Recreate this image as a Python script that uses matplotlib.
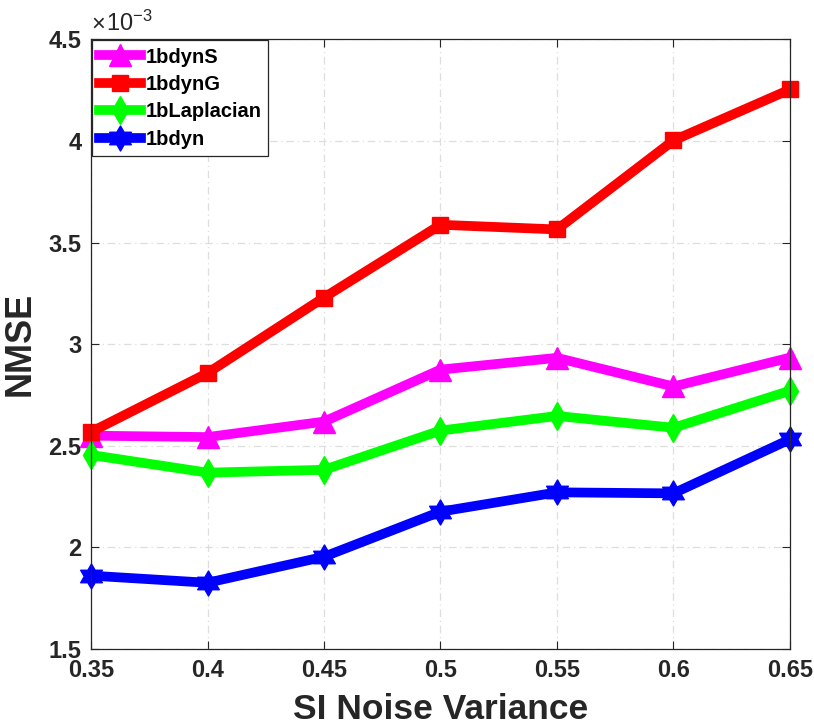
import numpy as np
import matplotlib

matplotlib.use("Agg")
import matplotlib.pyplot as plt
from matplotlib.path import Path
from matplotlib.ticker import FuncFormatter

# SI noise variance on the x axis
noise_var = [0.35, 0.40, 0.45, 0.50, 0.55, 0.60, 0.65]

# NMSE per method
nmse_1bdynS = [2.550e-3, 2.543e-3, 2.619e-3, 2.875e-3, 2.933e-3, 2.792e-3, 2.934e-3]
nmse_1bdynG = [2.568e-3, 2.858e-3, 3.230e-3, 3.588e-3, 3.565e-3, 4.003e-3, 4.254e-3]
nmse_1bLaplacian = [2.455e-3, 2.368e-3, 2.382e-3, 2.575e-3, 2.647e-3, 2.589e-3, 2.771e-3]
nmse_1bdyn = [1.861e-3, 1.826e-3, 1.954e-3, 2.176e-3, 2.271e-3, 2.266e-3, 2.532e-3]

labels = ["1bdynS", "1bdynG", "1bLaplacian", "1bdyn"]

x_ticks = [0.35, 0.4, 0.45, 0.5, 0.55, 0.6, 0.65]
y_ticks = [1.5e-3, 2e-3, 2.5e-3, 3e-3, 3.5e-3, 4e-3, 4.5e-3]

plt.rcParams["font.family"] = ["Liberation Sans", "DejaVu Sans"]
plt.rcParams["font.weight"] = "bold"
plt.rcParams["mathtext.fontset"] = "custom"
plt.rcParams["mathtext.rm"] = "Liberation Sans"
plt.rcParams["mathtext.it"] = "Liberation Sans"


def _hexagram():
    # six pointed star like MATLAB's 'h' marker
    ang = np.deg2rad(90 + 30 * np.arange(12))
    rad = np.where(np.arange(12) % 2 == 0, 1.0, 1.0 / np.sqrt(3))
    verts = np.column_stack([rad * np.cos(ang), rad * np.sin(ang)])
    verts = np.vstack([verts, verts[:1]])
    codes = [Path.MOVETO] + [Path.LINETO] * 11 + [Path.CLOSEPOLY]
    return Path(verts, codes)


fig = plt.figure(figsize=(8.14, 7.27), dpi=100)
ax = fig.add_axes([0.1118, 0.1073, 0.8587, 0.8384])

series = [
    (nmse_1bdynS, "#ff00ff", "^", 16),
    (nmse_1bdynG, "#ff0000", "s", 11),
    (nmse_1bLaplacian, "#00ff00", "d", 14),
    (nmse_1bdyn, "#0000ff", _hexagram(), 18),
]
for (vals, color, marker, ms), label in zip(series, labels):
    ax.plot(noise_var, vals, color=color, lw=7, marker=marker, ms=ms,
            mfc=color, mec=color, mew=1, label=label, clip_on=False)

ax.set_xlim(0.35, 0.65)
ax.set_ylim(1.5e-3, 4.5e-3)
ax.set_xticks(x_ticks)
ax.set_yticks(y_ticks)
ax.xaxis.set_major_formatter(FuncFormatter(lambda v, _: f"{v:g}"))
ax.yaxis.set_major_formatter(FuncFormatter(lambda v, _: f"{v * 1e3:g}"))
ax.tick_params(direction="in", top=True, right=True, length=6, width=0.8,
               labelsize=17, colors="#262626", pad=7)
for lab in ax.get_xticklabels() + ax.get_yticklabels():
    lab.set_fontweight("bold")
for sp in ax.spines.values():
    sp.set_color("#262626")
    sp.set_linewidth(0.9)

ax.grid(True, color="#dedede", lw=0.9, linestyle=(0, (6, 3, 1, 3)))
ax.set_axisbelow(True)

ax.set_xlabel("SI Noise Variance", fontsize=25.5, fontweight="bold", color="#262626", labelpad=8)
ax.set_ylabel("NMSE", fontsize=26, fontweight="bold", color="#262626", labelpad=8)
ax.text(0.0, 1.006, "×", transform=ax.transAxes,
        fontsize=17, color="#262626", ha="left", va="bottom", fontweight="normal")
ax.text(0.022, 1.006, r"$\mathregular{10^{-3}}$", transform=ax.transAxes,
        fontsize=17, color="#262626", ha="left", va="bottom", fontweight="normal")

leg = ax.legend(loc="upper left", fontsize=14.5, handlelength=2.1, borderaxespad=0.05,
                framealpha=1, fancybox=False, edgecolor="#262626", borderpad=0.35,
                labelspacing=0.42, handletextpad=0.2)
leg.get_frame().set_linewidth(0.9)
for t in leg.get_texts():
    t.set_fontweight("bold")

fig.savefig("out.png", dpi=100)
